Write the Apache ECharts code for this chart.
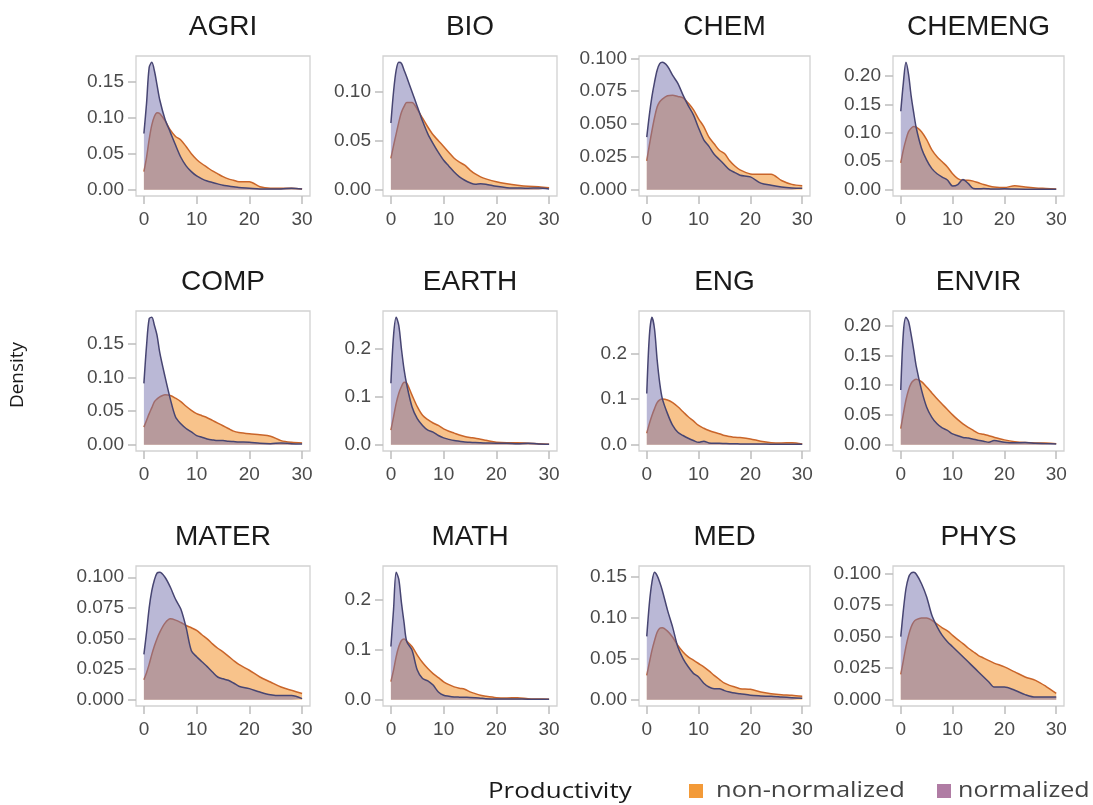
<!DOCTYPE html>
<html>
<head>
<meta charset="utf-8">
<script src="https://cdn.jsdelivr.net/npm/echarts@6/dist/echarts.min.js"></script>
<style>
html,body{margin:0;padding:0;background:#fff;}
#main{width:1093px;height:805px;}
</style>
</head>
<body>
<div id="main"></div>
<script>
// fields, one panel each
var panels = ['AGRI','BIO','CHEM','CHEMENG','COMP','EARTH','ENG','ENVIR','MATER','MATH','MED','PHYS'];
// productivity values where the densities were read
var xs = [0,0.5,1,1.5,2,2.5,3,4,5,6,7,8,9,10,11,12,13,14,15,16,17,18,20,22,24,26,28,30];
var xTicks = [0,10,20,30];

// non-normalized (orange) / normalized (purple) densities
var agriNon = [0.025,0.045,0.07,0.09,0.102,0.107,0.106,0.096,0.083,0.074,0.069,0.06,0.05,0.042,0.036,0.031,0.026,0.022,0.018,0.015,0.013,0.011,0.011,0.004,0.002,0.002,0.002,0.001];
var agriNorm = [0.078,0.12,0.17,0.177,0.165,0.145,0.125,0.098,0.08,0.062,0.045,0.033,0.025,0.019,0.015,0.012,0.01,0.008,0.006,0.005,0.004,0.003,0.002,0.001,0.001,0.001,0.002,0.001];
var bioNon = [0.032,0.045,0.057,0.069,0.079,0.085,0.089,0.089,0.082,0.073,0.064,0.056,0.05,0.044,0.038,0.032,0.028,0.025,0.02,0.016,0.013,0.011,0.008,0.006,0.0045,0.0034,0.003,0.002];
var bioNorm = [0.068,0.1,0.122,0.13,0.129,0.122,0.115,0.1,0.085,0.07,0.057,0.047,0.038,0.03,0.024,0.018,0.013,0.0096,0.007,0.0055,0.006,0.0055,0.0034,0.002,0.0017,0.0014,0.0017,0.0007];
var chemNon = [0.022,0.034,0.045,0.055,0.063,0.067,0.069,0.0715,0.072,0.071,0.07,0.066,0.061,0.054,0.048,0.04,0.035,0.03,0.0275,0.022,0.018,0.015,0.012,0.0117,0.0117,0.007,0.004,0.003];
var chemNorm = [0.04,0.057,0.071,0.082,0.091,0.096,0.097,0.094,0.087,0.081,0.072,0.064,0.057,0.047,0.038,0.033,0.027,0.023,0.019,0.015,0.013,0.011,0.0097,0.005,0.0033,0.002,0.0013,0.001];
var chemengNon = [0.047,0.07,0.088,0.102,0.108,0.111,0.11,0.102,0.088,0.07,0.058,0.049,0.04,0.028,0.0195,0.0166,0.0166,0.015,0.012,0.009,0.0065,0.0047,0.0036,0.007,0.0047,0.003,0.002,0.001];
var chemengNorm = [0.138,0.188,0.224,0.203,0.165,0.135,0.108,0.073,0.052,0.037,0.028,0.022,0.017,0.0065,0.009,0.018,0.011,0.002,0.0015,0.002,0.0015,0.001,0.0015,0.001,0.0008,0.0008,0.0008,0.0006];
var compNon = [0.026,0.036,0.046,0.055,0.064,0.068,0.071,0.074,0.073,0.069,0.064,0.057,0.051,0.046,0.043,0.04,0.036,0.032,0.028,0.024,0.02,0.018,0.016,0.0146,0.0125,0.006,0.0035,0.0025];
var compNorm = [0.091,0.147,0.187,0.189,0.177,0.162,0.137,0.101,0.068,0.041,0.031,0.024,0.019,0.0135,0.011,0.0085,0.007,0.006,0.006,0.005,0.0045,0.004,0.0035,0.002,0.0015,0.0025,0.0015,0.001];
var earthNon = [0.03,0.058,0.086,0.107,0.121,0.13,0.128,0.103,0.079,0.061,0.052,0.045,0.04,0.033,0.028,0.024,0.02,0.017,0.015,0.0134,0.011,0.009,0.005,0.004,0.004,0.003,0.002,0.001];
var earthNorm = [0.128,0.227,0.265,0.248,0.199,0.156,0.125,0.079,0.054,0.04,0.03,0.026,0.019,0.014,0.011,0.0085,0.007,0.0056,0.005,0.0042,0.0038,0.0035,0.003,0.003,0.002,0.003,0.0014,0.001];
var engNon = [0.025,0.046,0.064,0.079,0.092,0.098,0.1,0.098,0.092,0.083,0.072,0.061,0.052,0.042,0.036,0.031,0.027,0.024,0.02,0.018,0.016,0.0155,0.0126,0.0074,0.0044,0.0037,0.0044,0.0015];
var engNorm = [0.112,0.238,0.279,0.253,0.186,0.135,0.101,0.068,0.042,0.027,0.02,0.014,0.009,0.005,0.0074,0.0037,0.003,0.003,0.0025,0.002,0.002,0.0015,0.0015,0.0015,0.001,0.001,0.001,0.001];
var envirNon = [0.027,0.052,0.075,0.092,0.103,0.108,0.11,0.106,0.097,0.087,0.077,0.068,0.059,0.05,0.042,0.035,0.029,0.024,0.019,0.0175,0.015,0.0124,0.008,0.005,0.0034,0.0028,0.0028,0.0017];
var envirNorm = [0.092,0.188,0.214,0.207,0.185,0.159,0.131,0.092,0.063,0.046,0.035,0.028,0.024,0.018,0.015,0.012,0.011,0.009,0.0073,0.0057,0.004,0.0068,0.004,0.003,0.0034,0.0023,0.0017,0.001];
var materNon = [0.0163,0.022,0.029,0.037,0.044,0.05,0.055,0.0625,0.066,0.065,0.063,0.0606,0.0587,0.0565,0.053,0.0497,0.0456,0.042,0.039,0.0356,0.032,0.0288,0.024,0.0185,0.0144,0.0103,0.0076,0.005];
var materNorm = [0.037,0.055,0.075,0.089,0.098,0.1035,0.104,0.1,0.092,0.082,0.074,0.059,0.04,0.035,0.031,0.027,0.0226,0.0185,0.017,0.0158,0.0136,0.011,0.009,0.0062,0.004,0.0033,0.0033,0.0008];
var mathNon = [0.036,0.059,0.086,0.106,0.118,0.121,0.117,0.106,0.089,0.074,0.062,0.052,0.044,0.0356,0.03,0.0255,0.0228,0.0208,0.0154,0.012,0.0087,0.0067,0.004,0.0034,0.004,0.002,0.0013,0.0007];
var mathNorm = [0.106,0.18,0.254,0.24,0.193,0.153,0.116,0.099,0.059,0.042,0.0376,0.029,0.0154,0.0087,0.0067,0.0054,0.005,0.0047,0.0045,0.004,0.003,0.002,0.0013,0.0015,0.0013,0.0007,0.0007,0.0007];
var medNon = [0.0296,0.045,0.06,0.072,0.082,0.087,0.0876,0.0835,0.076,0.066,0.058,0.052,0.048,0.044,0.04,0.035,0.0296,0.0247,0.02,0.0174,0.0154,0.0134,0.0126,0.0093,0.0073,0.006,0.0053,0.004];
var medNorm = [0.077,0.117,0.143,0.155,0.151,0.143,0.133,0.109,0.088,0.064,0.05,0.04,0.032,0.0276,0.02,0.0154,0.0134,0.0134,0.011,0.0093,0.008,0.0073,0.0053,0.0045,0.004,0.0032,0.0024,0.0016];
var physNon = [0.02,0.031,0.042,0.051,0.0577,0.0617,0.0635,0.0648,0.0648,0.063,0.06,0.057,0.0545,0.051,0.0476,0.0445,0.041,0.038,0.035,0.033,0.031,0.029,0.026,0.022,0.018,0.0153,0.0106,0.005];
var physNorm = [0.05,0.071,0.088,0.097,0.1005,0.101,0.0995,0.092,0.0815,0.067,0.058,0.051,0.046,0.042,0.038,0.034,0.03,0.026,0.022,0.018,0.014,0.01,0.01,0.0074,0.004,0.002,0.002,0.002];

var nonNormalized = [agriNon,bioNon,chemNon,chemengNon,compNon,earthNon,engNon,envirNon,materNon,mathNon,medNon,physNon];
var normalized = [agriNorm,bioNorm,chemNorm,chemengNorm,compNorm,earthNorm,engNorm,envirNorm,materNorm,mathNorm,medNorm,physNorm];

// y tick step and label decimals per panel
var yTickStep = [0.05,0.05,0.025,0.05,0.05,0.1,0.1,0.05,0.025,0.1,0.05,0.025];
var yTickDigits = [2,2,3,2,2,1,1,2,3,1,2,3];

var legendNames = ['non-normalized','normalized'];

var chart = echarts.init(document.getElementById('main'));

var colLeft = [136, 383, 639, 893];
var colWidth = [174, 174, 171, 171];
var rowTop = [56, 311, 566];
var panelH = 140;
var tickColor = '#bdbdbd';
var labelColor = '#4a4a4a';

var grids = [], xAxes = [], yAxes = [], series = [], graphics = [];

function pairs(arr){
	var out = [];
	for(var k=0;k<xs.length;k++){
		out.push([xs[k], arr[k]]);
	}
	return out;
}

for(var i=0;i<panels.length;i++){
	var r = Math.floor(i/4), c = i%4;
	var top_ = rowTop[r], left_ = colLeft[c], w = colWidth[c];
	grids.push({left:left_, top:top_, width:w, height:panelH, show:true,
		borderColor:'#d2d2d2', borderWidth:1.3, backgroundColor:'#fff'});

	xAxes.push({type:'value', gridIndex:i, min:-1.5, max:31.5,
		axisLine:{show:false, onZero:false}, splitLine:{show:false},
		axisTick:{show:true, customValues:xTicks, length:8, lineStyle:{color:tickColor, width:1.5}},
		axisLabel:{customValues:xTicks, color:labelColor, fontSize:19, fontFamily:'Liberation Sans', margin:14}
	});

	var M = Math.max(Math.max.apply(null, nonNormalized[i]), Math.max.apply(null, normalized[i]));
	var step = yTickStep[i], dig = yTickDigits[i];
	var yt = [];
	for(var v=0; v*step <= M*1.05 + 1e-9; v++){
		yt.push(+(v*step).toFixed(6));
	}
	yAxes.push({type:'value', gridIndex:i, min:-0.05*M, max:1.05*M,
		axisLine:{show:false, onZero:false}, splitLine:{show:false},
		axisTick:{show:true, customValues:yt, length:8, lineStyle:{color:tickColor, width:1.5}},
		axisLabel:{customValues:yt, color:labelColor, fontSize:19, fontFamily:'Liberation Sans', margin:12,
			formatter:(function(d){ return function(val){ return Number(val).toFixed(d); }; })(dig)}
	});

	// orange first, purple drawn over it (area covers the orange outline)
	series.push({type:'line', name:legendNames[0], xAxisIndex:i, yAxisIndex:i, z:2,
		data:pairs(nonNormalized[i]), smooth:0.3, symbol:'none', silent:true,
		lineStyle:{color:'#c9652a', width:1.5},
		areaStyle:{color:'#f18717', opacity:0.5}});
	series.push({type:'line', name:legendNames[1], xAxisIndex:i, yAxisIndex:i, z:3,
		data:pairs(normalized[i]), smooth:0.3, symbol:'none', silent:true,
		lineStyle:{color:'#474572', width:1.5},
		areaStyle:{color:'#7571ad', opacity:0.5}});

	graphics.push({type:'text', x:left_ + w/2, y:top_ - 29,
		style:{text:panels[i], font:'28px "Liberation Sans"', fill:'#1a1a1a',
			align:'center', verticalAlign:'middle', textAlign:'center', textVerticalAlign:'middle'}});
}

// axis title
graphics.push({type:'text', x:18, y:375, rotation:Math.PI/2,
	style:{text:'Density', font:'19px "Open Sans"', fill:'#1a1a1a',
		align:'center', verticalAlign:'middle', textAlign:'center', textVerticalAlign:'middle'}});

// legend
graphics.push({type:'text', x:488, y:792, scaleX:1.18,
	style:{text:'Productivity', font:'22px "Open Sans"', fill:'#1a1a1a',
		align:'left', verticalAlign:'middle', textAlign:'left', textVerticalAlign:'middle'}});
graphics.push({type:'rect', shape:{x:689, y:784, width:14, height:14}, style:{fill:'#f39a38'}});
graphics.push({type:'text', x:716, y:791, scaleX:1.16,
	style:{text:legendNames[0], font:'22px "Open Sans"', fill:'#444',
		align:'left', verticalAlign:'middle', textAlign:'left', textVerticalAlign:'middle'}});
graphics.push({type:'rect', shape:{x:937, y:784, width:14, height:14}, style:{fill:'#b07ca4'}});
graphics.push({type:'text', x:958, y:791, scaleX:1.14,
	style:{text:legendNames[1], font:'22px "Open Sans"', fill:'#444',
		align:'left', verticalAlign:'middle', textAlign:'left', textVerticalAlign:'middle'}});

chart.setOption({
	animation:false,
	backgroundColor:'#fff',
	grid:grids,
	xAxis:xAxes,
	yAxis:yAxes,
	series:series,
	graphic:graphics
});
</script>
</body>
</html>
